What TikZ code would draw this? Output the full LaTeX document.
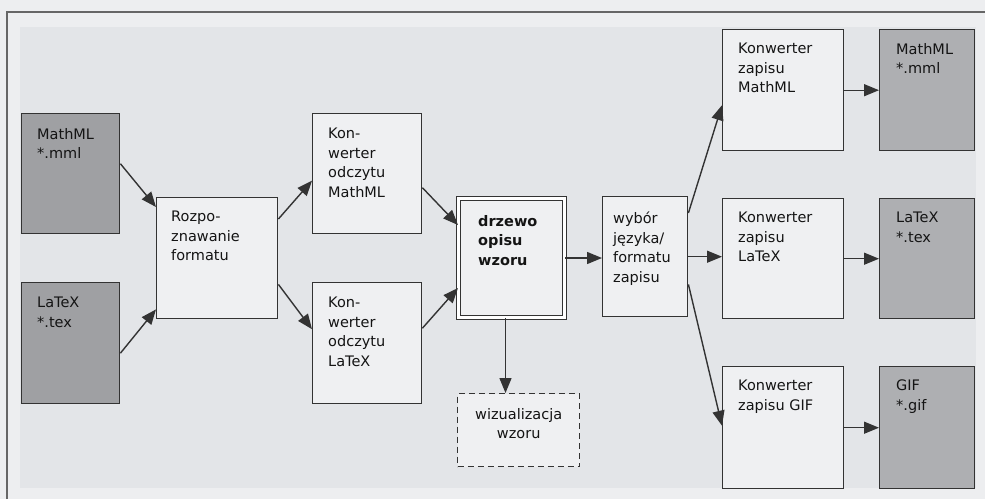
\documentclass[tikz,border=0pt]{standalone}
\usepackage{fontspec}
\setmainfont{DejaVu Sans}
\usetikzlibrary{arrows.meta}
\definecolor{pagebg}{HTML}{EDEEF0}
\definecolor{panelbg}{HTML}{E3E5E8}
\definecolor{boxbg}{HTML}{EFF0F2}
\definecolor{darkL}{HTML}{9FA0A3}
\definecolor{darkR}{HTML}{AEAFB2}
\definecolor{edge}{HTML}{333333}
\tikzset{
  box/.style={draw=edge, line width=1.4pt, fill=boxbg, anchor=north west, inner sep=0pt},
  darkboxL/.style={box, fill=darkL},
  darkboxR/.style={box, fill=darkR},
  txt/.style={anchor=north west, inner sep=0pt, align=left, font=\fontsize{14.5}{19.5}\selectfont, text=black!92},
  conn/.style={draw=edge, line width=1.4pt, -{Triangle[length=15pt,width=12pt]}},
}
\begin{document}
\begin{tikzpicture}[x=1pt,y=1pt]
\useasboundingbox (0,0) rectangle (985,-499);
\fill[pagebg] (0,0) rectangle (985,-499);
\fill[panelbg] (20,-27) rectangle (976,-488);
\draw[gray!80!black, line width=1.2pt] (7,-499) -- (7,-12) -- (985,-12);

% boxes
\node[darkboxL, minimum width=98pt, minimum height=120pt] (mmlL) at (21,-113) {};
\node[darkboxL, minimum width=98pt, minimum height=121pt] (texL) at (21,-282) {};
\node[box, minimum width=121pt, minimum height=121pt] (rozp) at (156,-197) {};
\node[box, minimum width=109pt, minimum height=120pt] (odmml) at (312,-113) {};
\node[box, minimum width=109pt, minimum height=121pt] (odtex) at (312,-282) {};
\node[box, double, double distance=2.2pt, line width=1pt, minimum width=106pt, minimum height=119pt] (tree) at (458,-198) {};
\node[box, minimum width=85pt, minimum height=120pt] (wyb) at (602,-196) {};
\node[box, minimum width=121pt, minimum height=121pt] (kmml) at (722,-29) {};
\node[box, minimum width=121pt, minimum height=120pt] (ktex) at (722,-198) {};
\node[box, minimum width=121pt, minimum height=122pt] (kgif) at (722,-366) {};
\node[darkboxR, minimum width=95pt, minimum height=121pt] (omml) at (879,-29) {};
\node[darkboxR, minimum width=95pt, minimum height=120pt] (otex) at (879,-198) {};
\node[darkboxR, minimum width=95pt, minimum height=122pt] (ogif) at (879,-366) {};
\node[box, dashed, dash pattern=on 6pt off 4pt, minimum width=122pt, minimum height=73pt] (wiz) at (457,-393) {};

% texts
\node[txt] (t1) at ([xshift=16pt,yshift=-15pt]mmlL.north west) {MathML\\*.mml};
\node[txt] (t2) at ([xshift=16pt,yshift=-15pt]texL.north west) {LaTeX\\*.tex};
\node[txt] (t3) at ([xshift=15pt,yshift=-14pt]rozp.north west) {Rozpo-\\znawanie\\formatu};
\node[txt] (t4) at ([xshift=16pt,yshift=-15pt]odmml.north west) {Kon-\\werter\\odczytu\\MathML};
\node[txt] (t5) at ([xshift=16pt,yshift=-15pt]odtex.north west) {Kon-\\werter\\odczytu\\LaTeX};
\node[txt, font=\fontsize{14.5}{19.5}\selectfont\bfseries] (t6) at ([xshift=20pt,yshift=-17pt]tree.north west) {drzewo\\opisu\\wzoru};
\node[txt] (t7) at ([xshift=11pt,yshift=-16pt]wyb.north west) {wybór\\języka/\\formatu\\zapisu};
\node[txt] (t8) at ([xshift=16pt,yshift=-14pt]kmml.north west) {Konwerter\\zapisu\\MathML};
\node[txt] (t9) at ([xshift=16pt,yshift=-14pt]ktex.north west) {Konwerter\\zapisu\\LaTeX};
\node[txt] (t10) at ([xshift=16pt,yshift=-14pt]kgif.north west) {Konwerter\\zapisu GIF};
\node[txt] (t11) at ([xshift=17pt,yshift=-14pt]omml.north west) {MathML\\*.mml};
\node[txt] (t12) at ([xshift=17pt,yshift=-14pt]otex.north west) {LaTeX\\*.tex};
\node[txt] (t13) at ([xshift=17pt,yshift=-14pt]ogif.north west) {GIF\\*.gif};
\node[txt, anchor=north, align=center] (t14) at ([yshift=-15pt]wiz.north) {wizualizacja\\wzoru};

% connectors
\draw[conn] ([yshift=10pt]mmlL.east) -- ([yshift=-10pt]rozp.north west);
\draw[conn] ([yshift=-10pt]texL.east) -- ([yshift=10pt]rozp.south west);
\draw[conn] ([yshift=-22pt]rozp.north east) -- ([yshift=-7pt]odmml.west);
\draw[conn] ([yshift=35pt]rozp.south east) -- ([yshift=14pt]odtex.west);
\draw[conn] ([yshift=-14pt]odmml.east) -- ([yshift=-27pt]tree.north west);
\draw[conn] ([yshift=15pt]odtex.east) -- ([yshift=30pt]tree.south west);
\draw[conn] (tree.east) -- (tree.east -| wyb.west);
\draw[conn] (wyb.east) -- (wyb.east -| ktex.west);
\draw[conn] ([yshift=-17pt]wyb.north east) -- ([yshift=-15pt]kmml.west);
\draw[conn] ([yshift=33pt]wyb.south east) -- ([yshift=2pt]kgif.west);
\draw[conn] (kmml.east) -- (kmml.east -| omml.west);
\draw[conn] (ktex.east) -- (ktex.east -| otex.west);
\draw[conn] (kgif.east) -- (kgif.east -| ogif.west);
\draw[conn] ([xshift=-6pt]tree.south) -- ([xshift=-6pt]tree.south |- wiz.north);
\end{tikzpicture}
\end{document}
